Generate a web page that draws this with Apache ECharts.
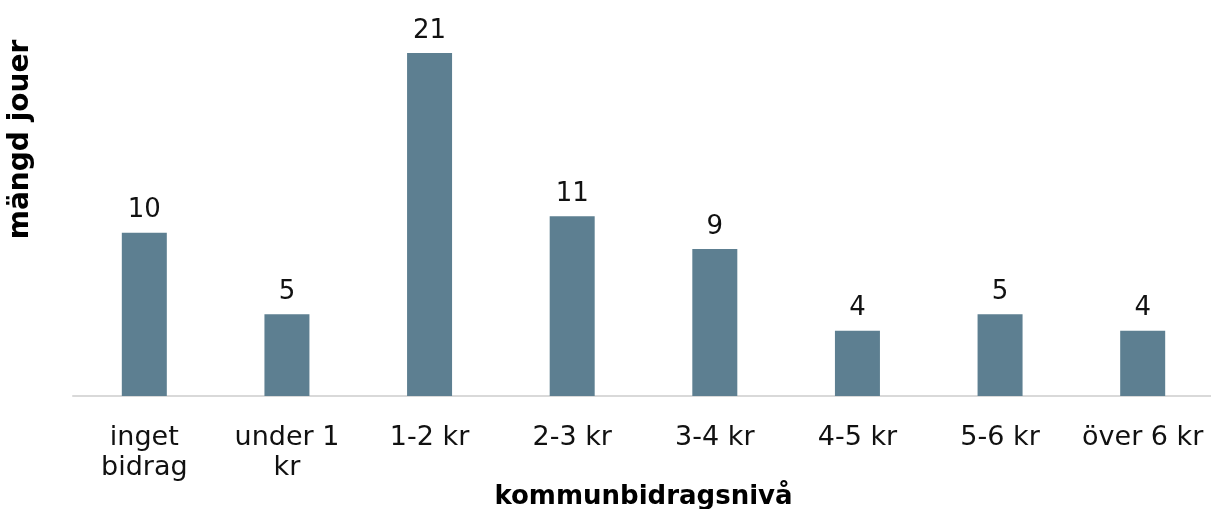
<!DOCTYPE html>
<html>
<head>
<meta charset="utf-8">
<script src="https://cdn.jsdelivr.net/npm/echarts@6/dist/echarts.min.js"></script>
<style>
  html, body { margin: 0; padding: 0; background: #fff; }
  #chart { width: 1211px; height: 509px; }
</style>
</head>
<body>
<div id="chart"></div>
<script>
const categories = ['inget\nbidrag', 'under 1\nkr', '1-2 kr', '2-3 kr', '3-4 kr', '4-5 kr', '5-6 kr', 'över 6 kr']
const values = [10, 5, 21, 11, 9, 4, 5, 4]

const font = 'DejaVu Sans, Verdana, sans-serif'
const chart = echarts.init(document.getElementById('chart'))

chart.setOption({
  animation: false,
  textStyle: { fontFamily: font },
  grid: { left: 73, right: -3, top: 53, bottom: 113, outerBoundsMode: 'none', containLabel: false },
  xAxis: {
    type: 'category',
    data: categories,
    name: 'kommunbidragsnivå',
    nameLocation: 'middle',
    nameGap: 88,
    nameMoveOverlap: false,
    nameTextStyle: { fontSize: 26, fontWeight: 'bold', color: '#000', fontFamily: font },
    axisTick: { show: false },
    axisLine: { lineStyle: { color: '#d9d9d9', width: 2 } },
    axisLabel: { color: '#111', fontSize: 27, margin: 27, lineHeight: 30, interval: 0, fontFamily: font }
  },
  yAxis: {
    type: 'value',
    min: 0,
    max: 21,
    name: 'mängd jouer',
    nameLocation: 'middle',
    nameGap: 38,
    nameRotate: 90,
    nameMoveOverlap: false,
    nameTextStyle: { fontSize: 28, fontWeight: 'bold', color: '#000', fontFamily: font, padding: [0, 0, 0, 170] },
    axisLine: { show: false },
    axisTick: { show: false },
    axisLabel: { show: false },
    splitLine: { show: false }
  },
  series: [
    {
      type: 'bar',
      data: values,
      barWidth: 45,
      itemStyle: { color: '#5d7f91' },
      label: {
        show: true,
        position: 'top',
        distance: 9,
        fontSize: 26,
        color: '#111',
        fontFamily: font
      }
    }
  ]
})
</script>
</body>
</html>
